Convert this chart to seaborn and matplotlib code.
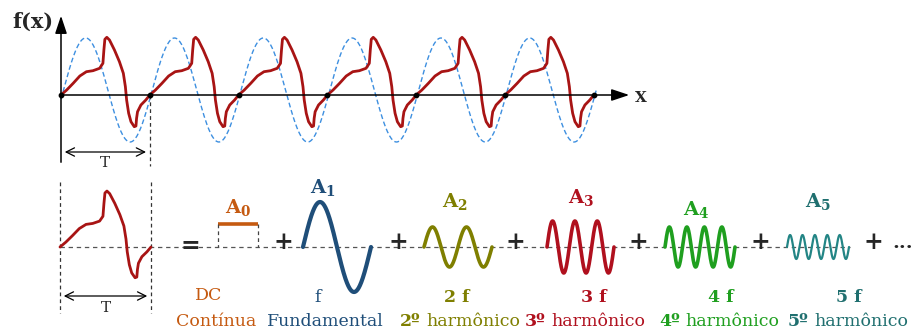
import numpy as np
import pandas as pd
import matplotlib
matplotlib.use("Agg")
import matplotlib.pyplot as plt
import seaborn as sns
from matplotlib.offsetbox import TextArea, HPacker, AnnotationBbox

# ---------------- data ----------------
# one period of the composite (red) waveform: phase (fraction of T) and level (px above axis)
period_phase = [0.0, 0.064, 0.137, 0.212, 0.286, 0.360, 0.435, 0.472, 0.483, 0.494,
                0.516, 0.546, 0.602, 0.658, 0.702, 0.725, 0.739, 0.762, 0.788, 0.825,
                0.844, 0.851, 0.862, 0.900, 0.955, 1.0]
period_level = [0.0, 5.0, 11.7, 19.0, 23.3, 24.3, 26.7, 31.7, 45.0, 55.7,
                57.7, 55.0, 45.0, 33.3, 21.7, 8.3, -5.0, -18.3, -26.7, -31.7,
                -31.0, -23.3, -16.7, -10.0, -5.0, 0.0]
n_periods = 6
# fundamental reference (blue dashed) : amplitude, offset, phase lag (px)
fund_amp, fund_offset, fund_lag = 52, 5, 2.5

# harmonic components
harm_names = ["A_1", "A_2", "A_3", "A_4", "A_5"]
harm_cycles = [1, 2, 3, 4, 5]
harm_amps = [45, 20, 26, 20, 12]
freq_labels = ["f", "2 f", "3 f", "4 f", "5 f"]
order_bold = ["", "2º", "3º", "4º", "5º"]
order_text = ["Fundamental", "harmônico", "harmônico", "harmônico", "harmônico"]
dc_labels = ["DC", "Contínua"]

# ---------------- styles / layout ----------------
RED = "#a81414"
BLUE_DASH = "#3d8fe0"
DC_COL = "#c55a11"
harm_colors = ["#1f4e79", "#7f7f00", "#b0101e", "#1f9f1f", "#238585"]
harm_label_colors = ["#1f4e79", "#7f7f00", "#b0101e", "#1f9f1f", "#1f6f6f"]
harm_lw = [3.0, 2.6, 2.6, 2.6, 1.6]
harm_x0 = [303, 424, 547, 665, 787]
harm_width = [68, 68, 67, 70, 62]
harm_label_xy = [(323, 187), (455, 202), (581, 197), (696, 210), (818, 202)]
freq_x = [318, 457, 594, 721, 849]
order_x = [325, 460, 585, 719, 848]
plus_x = [283, 398, 515, 638, 760, 873]

sns.set_theme(style="white")
plt.rcParams["font.family"] = ["DejaVu Serif"]
plt.rcParams["mathtext.fontset"] = "dejavuserif"

fig = plt.figure(figsize=(9.15, 3.29), dpi=100)
ax = fig.add_axes([0, 0, 1, 1])
ax.set_xlim(0, 915)
ax.set_ylim(329, 0)
ax.axis("off")

# ---------------- top: waveform over several periods ----------------
X0, AX_Y, P = 61, 95, 88.8
xs, ys = [], []
for k in range(n_periods):
    for j, (ph, lv) in enumerate(zip(period_phase, period_level)):
        if k > 0 and j == 0:
            continue
        xs.append(X0 + (k + ph) * P)
        ys.append(AX_Y - lv)
top_df = pd.DataFrame({"x": xs, "y": ys})

# blue dashed fundamental
bx = np.linspace(X0, X0 + n_periods * P + 3, 600)
by = AX_Y - (fund_offset + fund_amp * np.sin(2 * np.pi * (bx - X0 - fund_lag) / P))
sns.lineplot(x=bx, y=by, ax=ax, sort=False, estimator=None, color=BLUE_DASH,
             lw=1.0, dashes=False, linestyle=(0, (3.5, 2)))

# axes arrows
ax.annotate("", xy=(632, AX_Y), xytext=(X0, AX_Y),
            arrowprops=dict(arrowstyle="-|>,head_length=0.9,head_width=0.3", color="black", lw=1.1))
ax.annotate("", xy=(X0, 13), xytext=(X0, 165),
            arrowprops=dict(arrowstyle="-|>,head_length=0.9,head_width=0.3", color="black", lw=1.1))
sns.lineplot(data=top_df, x="x", y="y", ax=ax, sort=False, estimator=None,
             color=RED, lw=2.0)
dots_x = [X0 + k * P for k in range(n_periods + 1)]
ax.scatter(dots_x, [AX_Y] * len(dots_x), s=10, color="black", zorder=5)

ax.text(33, 22, "f(x)", fontsize=15, fontweight="bold", ha="center", va="center")
ax.text(641, 98, "X", fontsize=11, fontweight="bold", ha="center", va="center")

# period marker top
ax.plot([X0 + P, X0 + P], [AX_Y, 166], color="#333333", lw=0.9, ls=(0, (3, 2.5)))
ax.annotate("", xy=(X0 + 1, 152), xytext=(X0 + P - 1, 152),
            arrowprops=dict(arrowstyle="<->,head_length=0.5,head_width=0.25", color="black", lw=0.9))
ax.text(X0 + P / 2, 163, "T", fontsize=11, ha="center", va="center")

# ---------------- bottom: decomposition ----------------
BY = 247
B0, BP = 60, 91
ax.plot([B0, 850], [BY, BY], color="#555555", lw=0.9, ls=(0, (3.5, 3)))
for xv in (B0, B0 + BP):
    ax.plot([xv, xv], [182, 313], color="#333333", lw=0.9, ls=(0, (3, 2.5)))
bot_df = pd.DataFrame({"x": [B0 + ph * BP for ph in period_phase],
                       "y": [BY - lv * 0.97 for lv in period_level]})
sns.lineplot(data=bot_df, x="x", y="y", ax=ax, sort=False, estimator=None, color=RED, lw=2.0)
ax.annotate("", xy=(B0 + 1, 296), xytext=(B0 + BP - 1, 296),
            arrowprops=dict(arrowstyle="<->,head_length=0.5,head_width=0.25", color="black", lw=0.9))
ax.text(B0 + BP / 2, 308, "T", fontsize=11, ha="center", va="center")

ax.text(190, 246, "=", fontsize=17, fontweight="bold", ha="center", va="center")
for px in plus_x:
    ax.text(px, 242, "+", fontsize=17, fontweight="bold", ha="center", va="center")
ax.text(903, 243, "...", fontsize=14, fontweight="bold", ha="center", va="center")

# DC component
ax.plot([218, 258], [224, 224], color=DC_COL, lw=2.6, solid_capstyle="butt")
for xv in (218, 258):
    ax.plot([xv, xv], [224, BY], color="#444444", lw=0.9, ls=(0, (3, 2.5)))
ax.text(238, 207, r"$\mathbf{A_0}$", fontsize=14, color=DC_COL, ha="center", va="center")
ax.text(209, 296, dc_labels[0], fontsize=12.5, color=DC_COL, ha="center", va="center")
ax.text(216, 322, dc_labels[1], fontsize=12.5, color=DC_COL, ha="center", va="center")

# harmonics
for i in range(5):
    t = np.linspace(0, 1, 400)
    hx = harm_x0[i] + t * harm_width[i]
    hy = BY - harm_amps[i] * np.sin(2 * np.pi * harm_cycles[i] * t)
    sns.lineplot(x=hx, y=hy, ax=ax, sort=False, estimator=None, color=harm_colors[i], lw=harm_lw[i])
    lx, ly = harm_label_xy[i]
    nm = harm_names[i]
    ax.text(lx, ly, r"$\mathbf{" + nm + "}$", fontsize=14, color=harm_label_colors[i],
            ha="center", va="center")
    ax.text(freq_x[i], 297, freq_labels[i], fontsize=12.5, color=harm_label_colors[i],
            fontweight=("normal" if i == 0 else "bold"), ha="center", va="center")
    if order_bold[i]:
        ta1 = TextArea(order_bold[i], textprops=dict(color=harm_label_colors[i], fontsize=12.5,
                                                      fontweight="bold", family="DejaVu Serif"))
        ta2 = TextArea(order_text[i], textprops=dict(color=harm_label_colors[i], fontsize=12.5,
                                                      family="DejaVu Serif"))
        box = HPacker(children=[ta1, ta2], align="baseline", pad=0, sep=4)
        ab = AnnotationBbox(box, (order_x[i], 322), xycoords="data", frameon=False,
                            box_alignment=(0.5, 0.5), pad=0)
        ax.add_artist(ab)
    else:
        ax.text(order_x[i], 322, order_text[i], fontsize=12.5, color=harm_label_colors[i],
                ha="center", va="center")

fig.savefig("out.png", dpi=100)
